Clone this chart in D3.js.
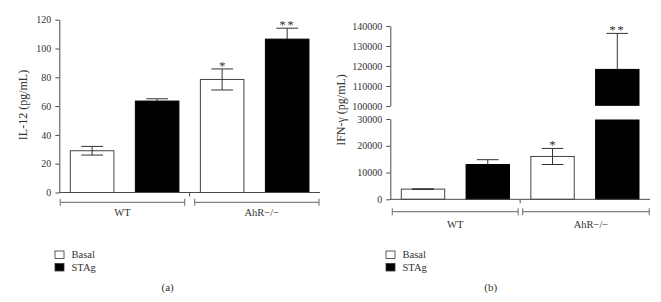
<!DOCTYPE html>
<html>
<head>
<meta charset="utf-8">
<script src="https://cdn.jsdelivr.net/npm/d3@7"></script>
<style>
  body { margin: 0; background: #fff; }
  svg { display: block; }
  text { font-family: "Liberation Serif", "DejaVu Serif", serif; fill: #333; }
</style>
</head>
<body>
<div id="chart"></div>
<script>
// Data
const groups = ["WT", "AhR\u2212/\u2212"];
const conditions = ["Basal", "STAg"];
// bar order: WT Basal, WT STAg, AhR Basal, AhR STAg
const il12Mean = [29, 63.5, 78.5, 106.5];
const il12Err = [3, 1.6, 7.3, 7.6];
const il12Stars = ["", "", "*", "**"];
const il12Ticks = [0, 20, 40, 60, 80, 100, 120];

const ifnMean = [3800, 13000, 16000, 118300];
const ifnErr = [120, 1800, 3000, 18000];
const ifnStars = ["", "", "*", "**"];
const ifnLowTicks = [0, 10000, 20000, 30000];
const ifnHighTicks = [100000, 110000, 120000, 130000, 140000];

const barFill = ["#fff", "#000", "#fff", "#000"];
const axisColor = "#4a4a4a";
const bracketColor = "#808080";

const svg = d3.select("#chart").append("svg")
  .attr("width", 661).attr("height", 302);

function styleAxis(g) {
  g.select(".domain").attr("stroke", axisColor);
  g.selectAll(".tick line").attr("stroke", axisColor);
  g.selectAll(".tick text")
    .attr("font-size", 10)
    .attr("fill", "#333")
    .attr("font-family", "Liberation Serif, serif");
}

function drawErr(g, x, yScale, mean, err, i, star, lowOk) {
  const cx = x(i) + x.bandwidth() / 2;
  const hw = x.bandwidth() / 4;
  const top = yScale(mean + err);
  const bot = lowOk ? yScale(mean - err) : yScale(mean);
  const col = "#333";
  g.append("line").attr("x1", cx).attr("x2", cx).attr("y1", top).attr("y2", bot)
    .attr("stroke", col);
  g.append("line").attr("x1", cx - hw).attr("x2", cx + hw).attr("y1", top).attr("y2", top)
    .attr("stroke", col);
  if (lowOk) {
    g.append("line").attr("x1", cx - hw).attr("x2", cx + hw).attr("y1", bot).attr("y2", bot)
      .attr("stroke", col);
  }
  if (star) {
    g.append("text")
      .attr("x", cx).attr("y", top + 1)
      .attr("text-anchor", "middle")
      .attr("font-size", 13)
      .attr("letter-spacing", star.length > 1 ? 1.5 : 0)
      .attr("fill", "#777")
      .text(star);
  }
}

function drawGroups(g, x0, x1, mid, yBr, yLab, axisY, doubleBreak) {
  const lines = [];
  if (doubleBreak) {
    lines.push([x0, mid - 2], [mid + 2.5, x1]);
  } else {
    lines.push([x0 + 1, mid - 5], [mid + 5, x1 - 1]);
  }
  lines.forEach(([a, b]) => {
    g.append("line").attr("x1", a).attr("x2", b).attr("y1", yBr).attr("y2", yBr)
      .attr("stroke", bracketColor).attr("stroke-width", 1.2);
    [a, b].forEach(xx => {
      g.append("line").attr("x1", xx).attr("x2", xx).attr("y1", yBr - 3.5).attr("y2", yBr + 3.5)
        .attr("stroke", bracketColor).attr("stroke-width", 1.2);
    });
  });
  // small mark under the axis between the groups
  g.append("line").attr("x1", mid).attr("x2", mid).attr("y1", axisY).attr("y2", axisY + 4)
    .attr("stroke", axisColor);
  g.append("text").attr("x", (lines[0][0] + lines[0][1]) / 2).attr("y", yLab)
    .attr("text-anchor", "middle").attr("font-size", 10.5).text(groups[0]);
  g.append("text").attr("x", (lines[1][0] + lines[1][1]) / 2 + 5).attr("y", yLab)
    .attr("text-anchor", "middle").attr("font-size", 10.5).text(groups[1]);
}

function drawLegend(g, lx, ly, caption, cx) {
  conditions.forEach((c, i) => {
    g.append("rect")
      .attr("x", lx).attr("y", ly + i * 12.5 - 7)
      .attr("width", 9).attr("height", 7.5)
      .attr("fill", i === 0 ? "#fff" : "#000")
      .attr("stroke", "#333").attr("stroke-width", 0.8);
    g.append("text").attr("x", lx + 16.5).attr("y", ly + i * 12.5)
      .attr("font-size", 10.5).text(c);
  });
  g.append("text").attr("x", cx).attr("y", 290.5)
    .attr("text-anchor", "middle").attr("font-size", 11).text(caption);
}

// ---- Panel (a): IL-12 ----
const ga = svg.append("g");
const xa = d3.scaleBand().domain(d3.range(4)).range([59.3, 320])
  .paddingInner(0.33).paddingOuter(0.17);
const ya = d3.scaleLinear().domain([0, 120]).range([192.5, 19.7]);

il12Mean.forEach((m, i) => {
  ga.append("rect")
    .attr("x", xa(i)).attr("width", xa.bandwidth())
    .attr("y", ya(m)).attr("height", ya(0) - ya(m))
    .attr("fill", barFill[i])
    .attr("stroke", barFill[i] === "#000" ? "#000" : "#444");
});
il12Mean.forEach((m, i) =>
  drawErr(ga, xa, ya, m, il12Err[i], i, il12Stars[i], barFill[i] === "#fff"));

ga.append("g").attr("transform", "translate(59.3,0)")
  .call(d3.axisLeft(ya).tickValues(il12Ticks).tickFormat(d3.format("d"))
    .tickSize(4).tickSizeOuter(0).tickPadding(4))
  .call(styleAxis);
ga.append("line").attr("x1", 59.3).attr("x2", 320).attr("y1", ya(0)).attr("y2", ya(0))
  .attr("stroke", axisColor);
ga.append("text")
  .attr("transform", "translate(27,105) rotate(-90)")
  .attr("text-anchor", "middle").attr("font-size", 12)
  .text("IL-12 (pg/mL)");

const midA = (xa(1) + xa.bandwidth() + xa(2)) / 2;
drawGroups(ga, 59.3, 320, midA, 202.3, 216, ya(0), false);
drawLegend(ga, 55, 258, "(a)", 167.7);

// ---- Panel (b): IFN-gamma, broken axis ----
const gb = svg.append("g");
const xb = d3.scaleBand().domain(d3.range(4)).range([390.3, 650])
  .paddingInner(0.33).paddingOuter(0.17);
const ybLow = d3.scaleLinear().domain([0, 30000]).range([199.3, 119]);
const ybHigh = d3.scaleLinear().domain([100000, 140000]).range([106, 26]);

ifnMean.forEach((m, i) => {
  if (m <= 30000) {
    gb.append("rect")
      .attr("x", xb(i)).attr("width", xb.bandwidth())
      .attr("y", ybLow(m)).attr("height", ybLow(0) - ybLow(m))
      .attr("fill", barFill[i])
      .attr("stroke", barFill[i] === "#000" ? "#000" : "#444");
  } else {
    gb.append("rect")
      .attr("x", xb(i)).attr("width", xb.bandwidth())
      .attr("y", ybLow(30000) + 1).attr("height", ybLow(0) - ybLow(30000) - 1)
      .attr("fill", barFill[i]).attr("stroke", "#000");
    gb.append("rect")
      .attr("x", xb(i)).attr("width", xb.bandwidth())
      .attr("y", ybHigh(m)).attr("height", ybHigh(100000) - ybHigh(m) - 0.7)
      .attr("fill", barFill[i]).attr("stroke", "#000");
  }
});
ifnMean.forEach((m, i) => {
  const sc = m <= 30000 ? ybLow : ybHigh;
  drawErr(gb, xb, sc, m, ifnErr[i], i, ifnStars[i], barFill[i] === "#fff");
});

gb.append("g").attr("transform", "translate(390.3,0)")
  .call(d3.axisLeft(ybLow).tickValues(ifnLowTicks).tickFormat(d3.format("d"))
    .tickSize(4).tickSizeOuter(0).tickPadding(4))
  .call(styleAxis);
gb.append("g").attr("transform", "translate(390.3,0)")
  .call(d3.axisLeft(ybHigh).tickValues(ifnHighTicks).tickFormat(d3.format("d"))
    .tickSize(4).tickSizeOuter(0).tickPadding(4))
  .call(styleAxis);
gb.append("line").attr("x1", 390.3).attr("x2", 650).attr("y1", ybLow(0)).attr("y2", ybLow(0))
  .attr("stroke", axisColor);
gb.append("text")
  .attr("transform", "translate(344.5,110) rotate(-90)")
  .attr("text-anchor", "middle").attr("font-size", 12)
  .text("IFN-\u03b3 (pg/mL)");

const midB = (xb(1) + xb.bandwidth() + xb(2)) / 2;
drawGroups(gb, 392.3, 649.3, midB, 211.7, 227.5, ybLow(0), true);
drawLegend(gb, 386, 258, "(b)", 490.7);
</script>
</body>
</html>
